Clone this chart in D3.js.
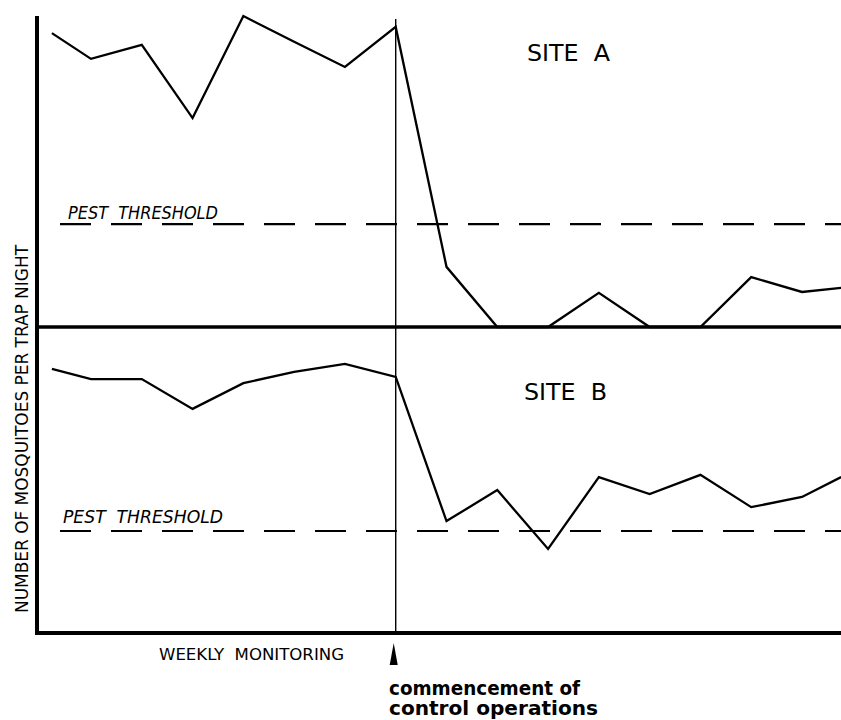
<!DOCTYPE html>
<html>
<head>
<meta charset="utf-8">
<script src="https://cdn.jsdelivr.net/npm/d3@7"></script>
<style>
html,body{margin:0;padding:0;background:#fff;}
svg{display:block;}
text{font-family:"DejaVu Sans Condensed","DejaVu Sans",sans-serif;fill:#000;}
</style>
</head>
<body>
<svg id="chart" width="841" height="720"></svg>
<script>
// Data (arbitrary units, no axis ticks on original)
const weeks = [0.23, 1, 2, 3, 4, 5, 6, 7, 8, 9, 10, 11, 12, 13, 14, 15, 15.77];
const siteA = [94.8, 86.5, 91, 67.4, 100.3, 92, 83.9, 96.8, 19.4, 0, 0, 11, 0, 0, 16.1, 11.3, 12.6];
const siteB = [85.2, 81.9, 81.9, 72.3, 80.6, 84.2, 86.8, 82.6, 36.1, 46.1, 27.1, 50.3, 44.8, 51, 40.6, 43.9, 50.3];
const thresholdA = 33.2;
const thresholdB = 32.9;
const controlWeek = 7;
const labels = {
  siteA: "SITE  A",
  siteB: "SITE  B",
  threshold: "PEST  THRESHOLD",
  yAxis: "NUMBER OF MOSQUITOES PER TRAP NIGHT",
  xAxis: "WEEKLY  MONITORING",
  note1: "commencement of",
  note2: "control operations"
};

const svg = d3.select("#chart");
const x = d3.scaleLinear().domain([1, 15]).range([91, 802]);
const yA = d3.scaleLinear().domain([0, 100]).range([327, 17]);
const yB = d3.scaleLinear().domain([0, 100]).range([633, 323]);

// Axes
const leftX = 37;
svg.append("line").attr("x1", leftX).attr("x2", leftX).attr("y1", yA(100.3)).attr("y2", yB(0) + 2)
  .attr("stroke", "#000").attr("stroke-width", 4);
svg.append("line").attr("x1", leftX - 2).attr("x2", 841).attr("y1", yA(0)).attr("y2", yA(0))
  .attr("stroke", "#000").attr("stroke-width", 3.5);
svg.append("line").attr("x1", leftX - 2).attr("x2", 841).attr("y1", yB(0)).attr("y2", yB(0))
  .attr("stroke", "#000").attr("stroke-width", 4);

// Threshold lines
[[yA, thresholdA], [yB, thresholdB]].forEach(([ys, t]) => {
  svg.append("line").attr("x1", 60).attr("x2", 841).attr("y1", ys(t)).attr("y2", ys(t))
    .attr("stroke", "#000").attr("stroke-width", 2.2).attr("stroke-dasharray", "31,20");
});

// Control vertical line
svg.append("line").attr("x1", x(controlWeek)).attr("x2", x(controlWeek))
  .attr("y1", 19).attr("y2", yB(0))
  .attr("stroke", "#000").attr("stroke-width", 1.4);

// Data lines
const lineA = d3.line().x((d, i) => x(weeks[i])).y(d => yA(d));
const lineB = d3.line().x((d, i) => x(weeks[i])).y(d => yB(d));
svg.append("path").attr("d", lineA(siteA)).attr("fill", "none").attr("stroke", "#000")
  .attr("stroke-width", 2.3).attr("stroke-linejoin", "miter");
svg.append("path").attr("d", lineB(siteB)).attr("fill", "none").attr("stroke", "#000")
  .attr("stroke-width", 2.3).attr("stroke-linejoin", "miter");

// Arrow
const ax = x(controlWeek) - 2;
svg.append("path")
  .attr("d", `M${ax},643 L${ax - 4},665 L${ax + 4},665 Z`)
  .attr("fill", "#000");

// Texts
svg.append("text").attr("x", 527).attr("y", 61).attr("font-size", 23)
  .attr("textLength", 83).attr("lengthAdjust", "spacingAndGlyphs").style("white-space", "pre").text(labels.siteA);
svg.append("text").attr("x", 524).attr("y", 400).attr("font-size", 23)
  .attr("textLength", 83).attr("lengthAdjust", "spacingAndGlyphs").style("white-space", "pre").text(labels.siteB);

svg.append("text").attr("x", 68).attr("y", 219).attr("font-size", 17).attr("font-style", "italic")
  .attr("textLength", 150).attr("lengthAdjust", "spacingAndGlyphs").style("white-space", "pre").text(labels.threshold);
svg.append("text").attr("x", 63).attr("y", 523).attr("font-size", 18).attr("font-style", "italic")
  .attr("textLength", 160).attr("lengthAdjust", "spacingAndGlyphs").style("white-space", "pre").text(labels.threshold);

svg.append("text").attr("transform", "translate(28,429) rotate(-90)").attr("text-anchor", "middle")
  .attr("font-size", 18).attr("textLength", 368).attr("lengthAdjust", "spacingAndGlyphs").text(labels.yAxis);

svg.append("text").attr("x", 159).attr("y", 660).attr("font-size", 16)
  .attr("textLength", 185).attr("lengthAdjust", "spacingAndGlyphs").style("white-space", "pre").text(labels.xAxis);

svg.append("text").attr("x", 389).attr("y", 695).attr("font-size", 19).attr("font-weight", "bold")
  .attr("textLength", 191).attr("lengthAdjust", "spacingAndGlyphs").text(labels.note1);
svg.append("text").attr("x", 389).attr("y", 715).attr("font-size", 19).attr("font-weight", "bold")
  .attr("textLength", 209).attr("lengthAdjust", "spacingAndGlyphs").text(labels.note2);
</script>
</body>
</html>
